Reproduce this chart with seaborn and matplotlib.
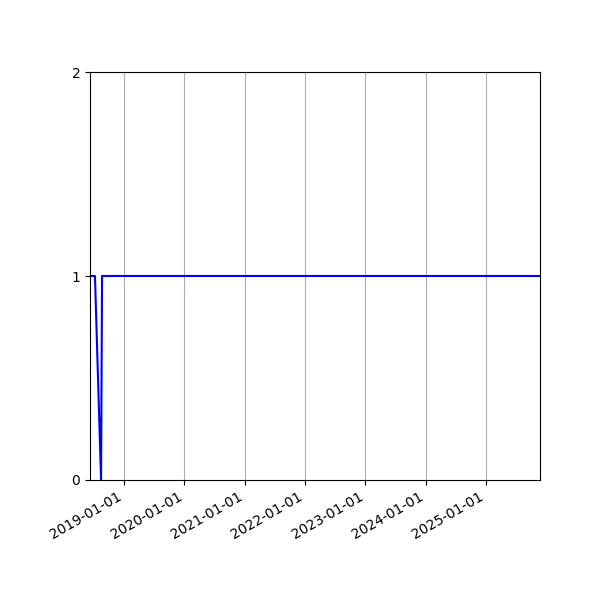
import pandas as pd
import matplotlib
matplotlib.use("Agg")
import matplotlib.pyplot as plt
import matplotlib.dates as mdates
import seaborn as sns

# values
dates = ["2018-06-09", "2018-07-09", "2018-08-15", "2018-08-21", "2019-06-01",
         "2020-06-01", "2021-06-01", "2022-06-01", "2023-06-01", "2024-06-01",
         "2025-06-01", "2025-11-24"]
values = [1, 1, 0, 1, 1, 1, 1, 1, 1, 1, 1, 1]

df = pd.DataFrame({"date": pd.to_datetime(dates), "value": values})

fig, ax = plt.subplots(figsize=(6, 6), dpi=100)
sns.lineplot(data=df, x="date", y="value", color="blue", linewidth=1.5, ax=ax)

ax.set_xlim(df["date"].min(), df["date"].max())
ax.set_ylim(0, 2)
ax.set_yticks([0, 1, 2])
ax.xaxis.set_major_locator(mdates.YearLocator())
ax.xaxis.set_major_formatter(mdates.DateFormatter("%Y-%m-%d"))
ax.grid(axis="x", color="#b0b0b0")
ax.set_xlabel("")
ax.set_ylabel("")
fig.autofmt_xdate()
fig.subplots_adjust(left=0.15, right=0.9, top=0.88, bottom=0.2)
fig.savefig("out.png")
